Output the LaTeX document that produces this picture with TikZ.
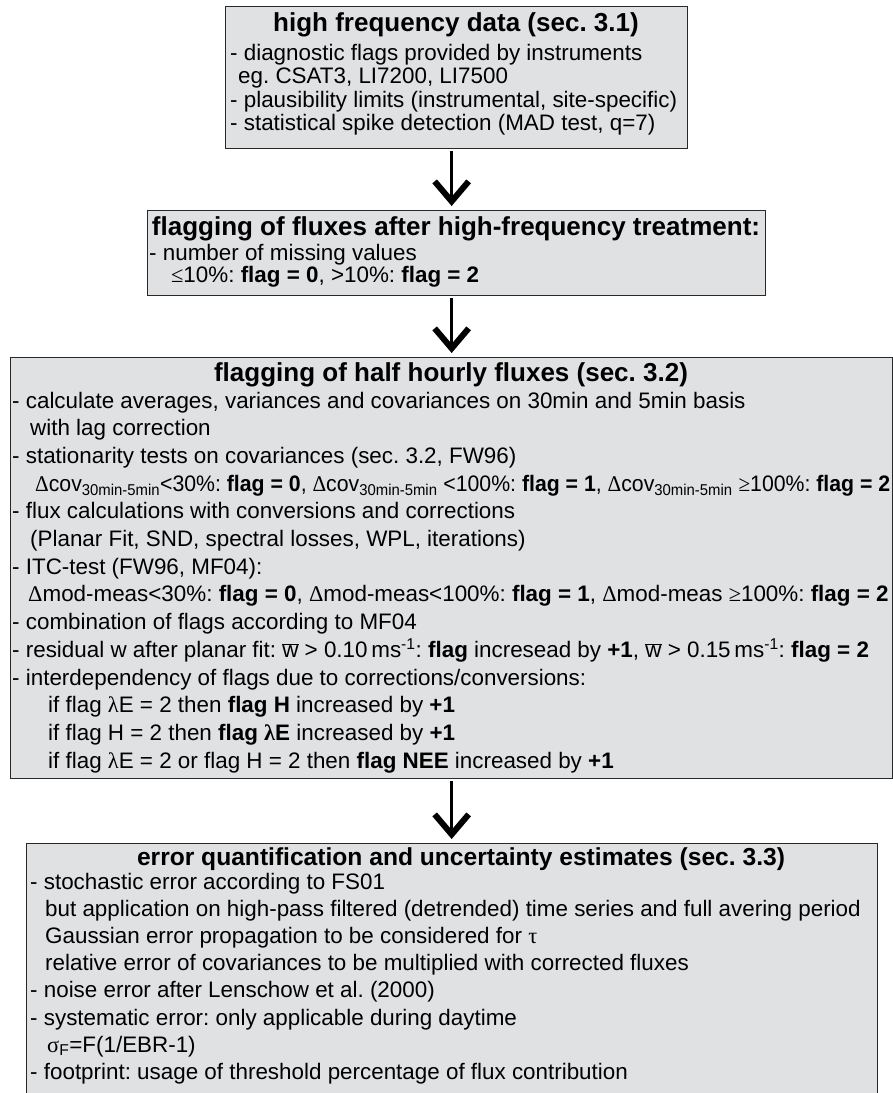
\documentclass[tikz,border=0pt]{standalone}
\usepackage{fontspec}
\usepackage{graphicx}
\setmainfont{Liberation Sans}
\newfontfamily\gk{Liberation Serif}
\usetikzlibrary{arrows.meta}
\definecolor{boxfill}{RGB}{224,225,227}
\definecolor{boxline}{RGB}{40,40,40}
\newcommand\Dl{{\gk Δ}}
\newcommand\lam{{\gk λ}}
\newcommand\wbar{$\overline{\mbox{w}}$}
\newcommand\mylines[2]{\vtop{\hsize=2000pt\parindent=0pt\parskip=0pt\frenchspacing\baselineskip=#1\relax\raggedright #2}}
\tikzset{
  box/.style={draw=boxline, fill=boxfill, line width=1.3pt, inner sep=0pt, rectangle, anchor=north west},
  ttl/.style={font=\fontsize{26}{30}\selectfont\bfseries\frenchspacing, inner sep=0pt, anchor=base},
  body/.style={font=\fontsize{22.4}{27}\selectfont, inner sep=0pt, anchor=base west},
  arr/.style={line width=3.5pt, -{Straight Barb[length=20pt, width=34pt, line width=6pt]}, shorten <=2pt, shorten >=4pt}
}
\begin{document}
\begin{tikzpicture}[x=1pt,y=-1pt]
\useasboundingbox (0,0) rectangle (893,1093);
\clip (0,0) rectangle (893,1093);
% boxes
\node[box, minimum width=462pt, minimum height=142pt] (b1) at (225,6) {};
\node[box, minimum width=618pt, minimum height=85pt] (b2) at (147,210) {};
\node[box, minimum width=882pt, minimum height=421pt] (b3) at (10,357) {};
\node[box, minimum width=851pt, minimum height=290pt] (b4) at (26,843) {};
% box 1
\node[ttl] (t1) at (456,31) {high frequency data (sec. 3.1)};
\node[body] (x1) at (230,60) {\mylines{23.5pt}{%
- diagnostic flags provided by instruments\\
\hspace*{8pt}eg. CSAT3, LI7200, LI7500\\
- plausibility limits (instrumental, site-specific)\\
- statistical spike detection (MAD test, q=7)}};
% box 2
\node[ttl] (t2) at (456,235) {flagging of fluxes after high-frequency treatment:};
\node[body] (x2) at (149,260) {\mylines{22.5pt}{%
- number of missing values\\
\hspace*{22pt}{\gk ≤}10\%: \textbf{flag = 0}, >10\%: \textbf{flag = 2}}};
% box 3
\node[ttl] (t3) at (451,381) {flagging of half hourly fluxes (sec. 3.2)};
\node[body] (x3) at (12,408) {\mylines{27.7pt}{%
- calculate averages, variances and covariances on 30min and 5min basis\\
\hspace*{18pt}with lag correction\\
- stationarity tests on covariances (sec. 3.2, FW96)\\
\hspace*{23pt}\resizebox{855pt}{\height}{\Dl cov\textsubscript{30min-5min}<30\%: \textbf{flag = 0}, \Dl cov\textsubscript{30min-5min} <100\%: \textbf{flag = 1}, \Dl cov\textsubscript{30min-5min} {\gk ≥}100\%: \textbf{flag = 2}}\\
- flux calculations with conversions and corrections\\
\hspace*{18pt}(Planar Fit, SND, spectral losses, WPL, iterations)\\
- ITC-test (FW96, MF04):\\
\hspace*{16pt}\Dl mod-meas<30\%: \textbf{flag = 0}, \Dl mod-meas<100\%: \textbf{flag = 1}, \Dl mod-meas {\gk ≥}100\%: \textbf{flag = 2}\\
- combination of flags according to MF04\\
- residual w after planar fit: \wbar{} > 0.10\,ms\textsuperscript{-1}: \textbf{flag} incresead by \textbf{+1}, \wbar{} > 0.15\,ms\textsuperscript{-1}: \textbf{flag = 2}\\
- interdependency of flags due to corrections/conversions:\\
\hspace*{36pt}if flag \lam E = 2 then \textbf{flag H} increased by \textbf{+1}\\
\hspace*{36pt}if flag H = 2 then \textbf{flag \lam E} increased by \textbf{+1}\\
\hspace*{36pt}if flag \lam E = 2 or flag H = 2 then \textbf{flag NEE} increased by \textbf{+1}}};
% box 4
\node[ttl, font=\fontsize{24.6}{28}\selectfont\bfseries\frenchspacing] (t4) at (461,865) {error quantification and uncertainty estimates (sec. 3.3)};
\node[body] (x4) at (30,889) {\mylines{27.2pt}{%
- stochastic error according to FS01\\
\hspace*{15pt}but application on high-pass filtered (detrended) time series and full avering period\\
\hspace*{15pt}Gaussian error propagation to be considered for {\gk τ}\\
\hspace*{15pt}relative error of covariances to be multiplied with corrected fluxes\\
- noise error after Lenschow et al. (2000)\\
- systematic error: only applicable during daytime\\
\hspace*{17pt}{\gk σ}\textsubscript{F}=F(1/EBR-1)\\
- footprint: usage of threshold percentage of flux contribution}};
% arrows
\draw[arr] (b1.south -| b3.north) -- (b2.north -| b3.north);
\draw[arr] (b2.south -| b3.north) -- (b3.north);
\draw[arr] (b3.south) -- (b4.north -| b3.north);
\end{tikzpicture}
\end{document}
